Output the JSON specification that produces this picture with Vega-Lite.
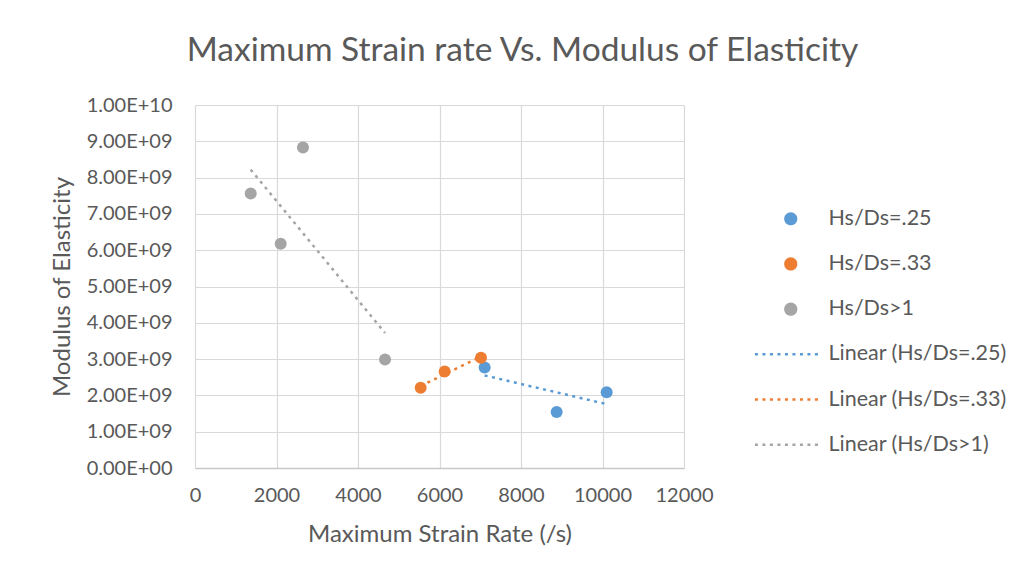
{
  "$schema": "https://vega.github.io/schema/vega-lite/v6.json",
  "width": 489,
  "height": 363,
  "autosize": "none",
  "padding": {"left": 195, "top": 105, "right": 343, "bottom": 113},
  "background": "white",
  "title": {
    "text": "Maximum Strain rate Vs. Modulus of Elasticity",
    "font": "Lato", "fontSize": 33.5, "fontWeight": "normal", "color": "#595959",
    "anchor": "middle", "dx": 83, "offset": 27
  },
  "config": {
    "view": {"stroke": null},
    "font": "Lato"
  },
  "datasets": {
    "pts": [
      {"x": 7108, "y": 2.77e9, "s": "Hs/Ds=.25"},
      {"x": 8875, "y": 1.54e9, "s": "Hs/Ds=.25"},
      {"x": 10102, "y": 2.09e9, "s": "Hs/Ds=.25"},
      {"x": 5538, "y": 2.21e9, "s": "Hs/Ds=.33"},
      {"x": 6127, "y": 2.66e9, "s": "Hs/Ds=.33"},
      {"x": 7018, "y": 3.04e9, "s": "Hs/Ds=.33"},
      {"x": 1367, "y": 7.56e9, "s": "Hs/Ds>1"},
      {"x": 2103, "y": 6.18e9, "s": "Hs/Ds>1"},
      {"x": 2650, "y": 8.83e9, "s": "Hs/Ds>1"},
      {"x": 4663, "y": 2.99e9, "s": "Hs/Ds>1"}
    ],
    "trend": [
      {"x": 7108, "y": 2.55e9, "s": "Linear (Hs/Ds=.25)"},
      {"x": 10102, "y": 1.76e9, "s": "Linear (Hs/Ds=.25)"},
      {"x": 5538, "y": 2.26e9, "s": "Linear (Hs/Ds=.33)"},
      {"x": 7018, "y": 3.07e9, "s": "Linear (Hs/Ds=.33)"},
      {"x": 1367, "y": 8.22e9, "s": "Linear (Hs/Ds>1)"},
      {"x": 4663, "y": 3.72e9, "s": "Linear (Hs/Ds>1)"}
    ]
  },
  "encoding": {
    "x": {
      "field": "x", "type": "quantitative",
      "scale": {"domain": [0, 12000], "nice": false, "zero": false},
      "axis": {
        "values": [0, 2000, 4000, 6000, 8000, 10000, 12000],
        "format": "d", "grid": true, "gridColor": "#d9d9d9", "gridWidth": 1.2,
        "domainColor": "#c8c8c8", "domainWidth": 1.5, "ticks": false,
        "labelOverlap": false, "labelFlush": false,
        "labelPadding": 17, "labelFont": "Lato", "labelFontSize": 20, "labelColor": "#595959",
        "title": "Maximum Strain Rate (/s)", "titleFont": "Lato", "titleFontSize": 24,
        "titleFontWeight": "normal", "titleColor": "#595959", "titlePadding": 17
      }
    },
    "y": {
      "field": "y", "type": "quantitative",
      "scale": {"domain": [0, 10000000000], "nice": false},
      "axis": {
        "values": [0, 1e9, 2e9, 3e9, 4e9, 5e9, 6e9, 7e9, 8e9, 9e9, 1e10],
        "labelExpr": "replace(upper(format(datum.value, '.2e')), regexp('E\\\\+(\\\\d)$'), 'E+0$1')",
        "grid": true, "gridColor": "#d9d9d9", "gridWidth": 1.2,
        "domain": false, "ticks": false, "labelOverlap": false, "labelFlush": false,
        "labelPadding": 23, "labelFont": "Lato", "labelFontSize": 20, "labelColor": "#595959",
        "title": "Modulus of Elasticity", "titleFont": "Lato", "titleFontSize": 24,
        "titleFontWeight": "normal", "titleColor": "#595959", "titlePadding": 12
      }
    },
    "color": {
      "field": "s", "type": "nominal",
      "scale": {
        "domain": ["Hs/Ds=.25", "Hs/Ds=.33", "Hs/Ds>1", "Linear (Hs/Ds=.25)", "Linear (Hs/Ds=.33)", "Linear (Hs/Ds>1)"],
        "range": ["#5B9BD5", "#ED7D31", "#A5A5A5", "#5B9BD5", "#ED7D31", "#A5A5A5"]
      },
      "legend": {
        "title": null, "orient": "none", "legendX": 588, "legendY": 103,
        "padding": 0, "symbolSize": 144, "symbolOffset": -6, "labelOffset": 30,
        "rowPadding": 22.2, "labelFont": "Lato", "labelFontSize": 21.5, "labelColor": "#595959",
        "labelLimit": 400, "symbolStrokeWidth": 0, "symbolStrokeColor": "transparent",
        "encode": {
          "symbols": {
            "update": {
              "shape": {"signal": "indexof(datum.value, 'Linear') == 0 ? 'M-5.47,-0.21h0.5v0.42h-0.5Z M-4.22,-0.21h0.5v0.42h-0.5Z M-2.97,-0.21h0.5v0.42h-0.5Z M-1.72,-0.21h0.5v0.42h-0.5Z M-0.47,-0.21h0.5v0.42h-0.5Z M0.78,-0.21h0.5v0.42h-0.5Z M2.03,-0.21h0.5v0.42h-0.5Z M3.28,-0.21h0.5v0.42h-0.5Z M4.53,-0.21h0.5v0.42h-0.5Z' : 'M-0.6,0A1.1,1.1,0,1,1,1.6,0A1.1,1.1,0,1,1,-0.6,0Z'"},
              "fill": {"signal": "indexof(datum.value, '.25') >= 0 ? '#5B9BD5' : (indexof(datum.value, '.33') >= 0 ? '#ED7D31' : '#A5A5A5')"},
              "opacity": {"value": 1}
            }
          }
        }
      }
    }
  },
  "layer": [
    {
      "data": {"name": "trend"},
      "mark": {"type": "line", "strokeWidth": 2.5, "strokeDash": [3, 4.5]},
      "encoding": {"detail": {"field": "s", "type": "nominal"}}
    },
    {
      "data": {"name": "pts"},
      "mark": {"type": "point", "filled": true, "opacity": 1, "size": 144}
    }
  ]
}
